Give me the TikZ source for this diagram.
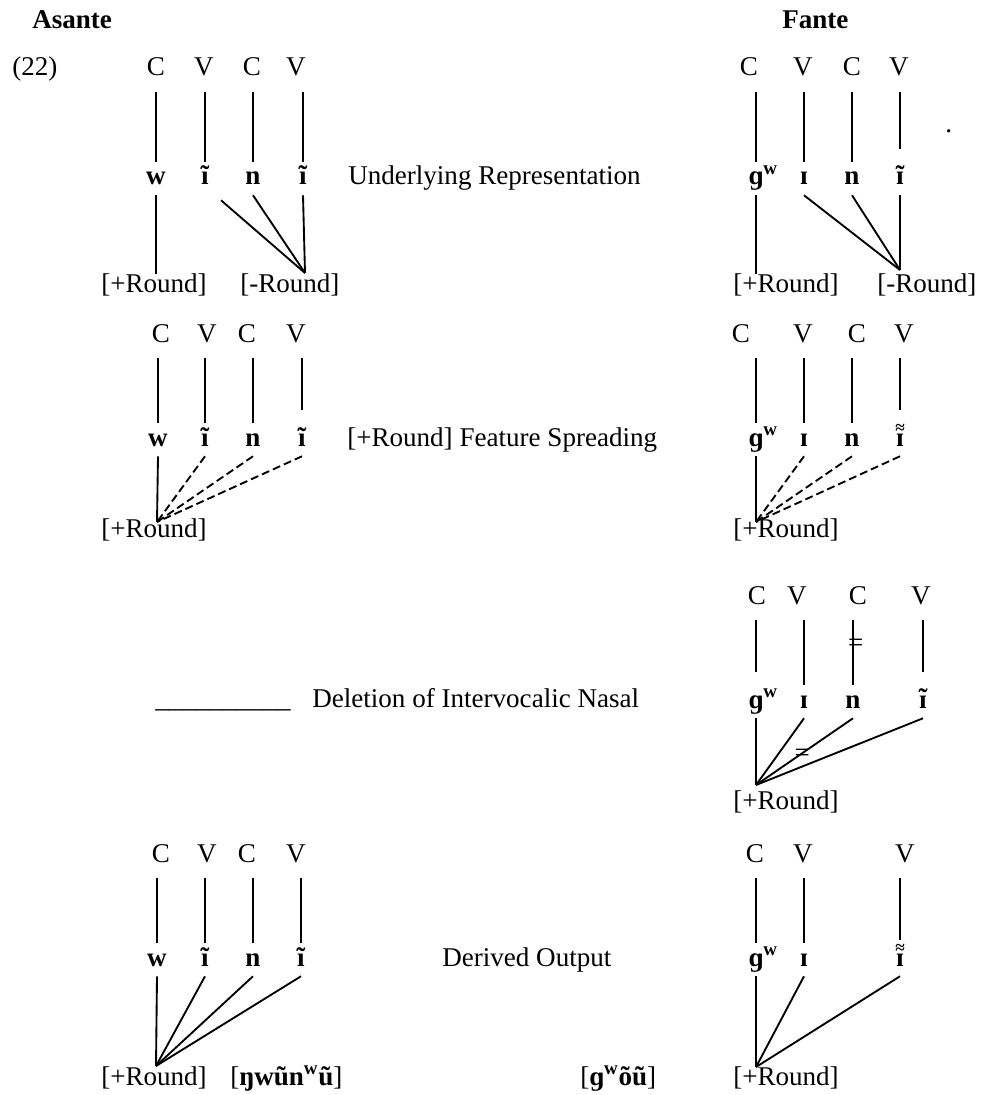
\documentclass[tikz,border=0pt]{standalone}
\usepackage{fontspec}
\setmainfont{Liberation Serif}
\usepackage{tikz}

\newcommand{\diagfont}{\fontsize{20.3}{24}\selectfont}
\newcommand{\labw}{\textsuperscript{\bfseries w}}
\newcommand{\nastilde}[1]{\ooalign{#1\cr\hidewidth\raisebox{0.02em}{˜}\hidewidth\cr}}
\newcommand{\dbltilde}[1]{\ooalign{#1\cr\hidewidth\raisebox{0.48em}{\fontsize{13}{13}\selectfont ≈}\hidewidth\cr}}

\tikzset{
    cv/.style={inner sep=0pt, anchor=base, text height=13.5pt, text depth=11.5pt},
    seg/.style={inner sep=0pt, anchor=base, text height=17pt, text depth=7.5pt, font=\diagfont\bfseries},
    tall/.style={text height=27pt},
    feat/.style={inner sep=0pt, anchor=base west, text height=13.5pt},
    plain/.style={inner sep=0pt, anchor=base west},
    head/.style={inner sep=0pt, anchor=base west, font=\diagfont\bfseries},
    delink/.style={inner sep=0pt, xshift=2pt},
    assoc/.style={line width=1.4pt},
    spread/.style={assoc, dash pattern=on 6pt off 3pt}
}

\begin{document}
\begin{tikzpicture}[x=0.75pt,y=0.75pt,yscale=-1,xscale=1,font=\diagfont]
        \useasboundingbox (0,0) rectangle (981,1095);

        % Headings
        \node [head] (asante) at (32,29) {Asante};
        \node [head] (fante) at (782,29) {Fante};
        \node [plain] (exno) at (12,76) {(22)};

        %%% Row 1: underlying representation
        % Asante
        \node [cv] (a1c1) at (156,76) {C};
        \node [cv] (a1v1) at (204,76) {V};
        \node [cv] (a1c2) at (252,76) {C};
        \node [cv] (a1v2) at (296,76) {V};
        \node [seg] (a1w) at (156,185) {w};
        \node [seg] (a1i) at (205,185) {ĩ};
        \node [seg] (a1n) at (253,185) {n};
        \node [seg] (a1j) at (303,185) {ĩ};
        \node [feat] (a1plus) at (101,292) {[+Round]};
        \node [feat] (a1minus) at (240,292) {[-Round]};
        \coordinate (a1hub) at (305,273);
        \node [plain] (a1note) at (348,185) {Underlying Representation};
        \draw [assoc] (a1c1.south -| a1w.north) -- (a1w.north);
        \draw [assoc] (a1v1.south -| a1i.north) -- (a1i.north);
        \draw [assoc] (a1c2.south -| a1n.north) -- (a1n.north);
        \draw [assoc] (a1v2.south -| a1j.north) -- (a1j.north);
        \draw [assoc] (a1w.south) -- (a1w.south |- a1plus.north);
        \draw [assoc] ([shift={(16,5)}]a1i.south) -- (a1hub);
        \draw [assoc] (a1n.south) -- (a1hub);
        \draw [assoc] (a1j.south) -- (a1hub);
        % Fante
        \node [cv] (f1c1) at (749,76) {C};
        \node [cv] (f1v1) at (803,76) {V};
        \node [cv] (f1c2) at (852,76) {C};
        \node [cv] (f1v2) at (899,76) {V};
        \node [seg] (f1g) at (756,185) {ɡ\rlap{\labw}};
        \node [seg] (f1i) at (804,185) {ɪ};
        \node [seg] (f1n) at (852,185) {n};
        \node [seg,tall] (f1j) at (900,185) {\nastilde{ɪ}};
        \node [feat] (f1plus) at (733,292) {[+Round]};
        \node [feat] (f1minus) at (877,292) {[-Round]};
        \coordinate (f1hub) at (900,270);
        \node [plain] (f1dot) at (945,133) {.};
        \draw [assoc] (f1c1.south -| f1g.north) -- (f1g.north);
        \draw [assoc] (f1v1.south -| f1i.north) -- (f1i.north);
        \draw [assoc] (f1c2.south -| f1n.north) -- (f1n.north);
        \draw [assoc] (f1v2.south -| f1j.north) -- (f1j.north);
        \draw [assoc] (f1g.south) -- (f1g.south |- f1plus.north);
        \draw [assoc] (f1i.south) -- (f1hub);
        \draw [assoc] (f1n.south) -- (f1hub);
        \draw [assoc] (f1j.south) -- (f1hub);

        %%% Row 2: [+Round] spreading
        % Asante
        \node [cv] (a2c1) at (161,342) {C};
        \node [cv] (a2v1) at (207,342) {V};
        \node [cv] (a2c2) at (247,342) {C};
        \node [cv] (a2v2) at (296,342) {V};
        \node [seg] (a2w) at (158,446) {w};
        \node [seg] (a2i) at (205,446) {ĩ};
        \node [seg] (a2n) at (253,446) {n};
        \node [seg,tall] (a2j) at (302,446) {ĩ};
        \node [feat] (a2plus) at (101,537) {[+Round]};
        \coordinate (a2hub) at (157,522);
        \node [plain] (a2note) at (347,446) {[+Round] Feature Spreading};
        \draw [assoc] (a2c1.south -| a2w.north) -- (a2w.north);
        \draw [assoc] (a2v1.south -| a2i.north) -- (a2i.north);
        \draw [assoc] (a2c2.south -| a2n.north) -- (a2n.north);
        \draw [assoc] (a2v2.south -| a2j.north) -- (a2j.north);
        \draw [assoc] (a2w.south) -- (a2hub);
        \draw [spread] (a2i.south) -- (a2hub);
        \draw [spread] (a2n.south) -- (a2hub);
        \draw [spread] (a2j.south) -- (a2hub);
        % Fante
        \node [cv] (f2c1) at (741,342) {C};
        \node [cv] (f2v1) at (803,342) {V};
        \node [cv] (f2c2) at (857,342) {C};
        \node [cv] (f2v2) at (904,342) {V};
        \node [seg] (f2g) at (756,446) {ɡ\rlap{\labw}};
        \node [seg] (f2i) at (804,446) {ɪ};
        \node [seg] (f2n) at (852,446) {n};
        \node [seg,tall] (f2j) at (900,446) {\dbltilde{ɪ}};
        \node [feat] (f2plus) at (733,537) {[+Round]};
        \coordinate (f2hub) at (756,522);
        \draw [assoc] (f2c1.south -| f2g.north) -- (f2g.north);
        \draw [assoc] (f2v1.south -| f2i.north) -- (f2i.north);
        \draw [assoc] (f2c2.south -| f2n.north) -- (f2n.north);
        \draw [assoc] (f2v2.south -| f2j.north) -- (f2j.north);
        \draw [assoc] (f2g.south) -- (f2hub);
        \draw [spread] (f2i.south) -- (f2hub);
        \draw [spread] (f2n.south) -- (f2hub);
        \draw [spread] (f2j.south) -- (f2hub);

        %%% Row 3: nasal deletion (Fante only)
        \node [plain] (a3blank) at (155,707) {\_\_\_\_\_\_\_\_\_\_};
        \node [plain] (a3note) at (312,707) {Deletion of Intervocalic Nasal};
        \node [cv] (f3c1) at (757,604) {C};
        \node [cv] (f3v1) at (797,604) {V};
        \node [cv] (f3c2) at (858,604) {C};
        \node [cv] (f3v2) at (921,604) {V};
        \node [seg,tall] (f3g) at (756,708) {ɡ\rlap{\labw}};
        \node [seg] (f3i) at (804,708) {ɪ};
        \node [seg] (f3n) at (853,708) {n};
        \node [seg,tall] (f3j) at (923,708) {\nastilde{ɪ}};
        \node [feat] (f3plus) at (733,809) {[+Round]};
        \coordinate (f3hub) at (756,785);
        \draw [assoc] (f3c1.south -| f3g.north) -- (f3g.north);
        \draw [assoc] (f3v1.south -| f3i.north) -- (f3i.north);
        \draw [assoc] (f3c2.south -| f3n.north) -- node [delink, pos=0.4] {=} (f3n.north);
        \draw [assoc] (f3v2.south -| f3j.north) -- (f3j.north);
        \draw [assoc] (f3g.south) -- (f3hub);
        \draw [assoc] (f3i.south) -- (f3hub);
        \draw [assoc] (f3n.south) -- node [delink, pos=0.55] {=} (f3hub);
        \draw [assoc] (f3j.south) -- (f3hub);

        %%% Row 4: derived output
        % Asante
        \node [cv] (a4c1) at (161,862) {C};
        \node [cv] (a4v1) at (207,862) {V};
        \node [cv] (a4c2) at (247,862) {C};
        \node [cv] (a4v2) at (296,862) {V};
        \node [seg] (a4w) at (157,966) {w};
        \node [seg] (a4i) at (205,966) {ĩ};
        \node [seg] (a4n) at (253,966) {n};
        \node [seg] (a4j) at (301,966) {ĩ};
        \node [feat] (a4plus) at (101,1085) {[+Round]};
        \node [plain] (a4form) at (230,1085) {[\textbf{ŋwũn\labw ũ}]};
        \coordinate (a4hub) at (156,1066);
        \node [plain] (a4note) at (442,966) {Derived Output};
        \node [plain] (f4form) at (580,1085) {[\textbf{ɡ\labw õũ}]};
        \draw [assoc] (a4c1.south -| a4w.north) -- (a4w.north);
        \draw [assoc] (a4v1.south -| a4i.north) -- (a4i.north);
        \draw [assoc] (a4c2.south -| a4n.north) -- (a4n.north);
        \draw [assoc] (a4v2.south -| a4j.north) -- (a4j.north);
        \draw [assoc] (a4w.south) -- (a4hub);
        \draw [assoc] (a4i.south) -- (a4hub);
        \draw [assoc] (a4n.south) -- (a4hub);
        \draw [assoc] (a4j.south) -- (a4hub);
        % Fante
        \node [cv] (f4c1) at (755,862) {C};
        \node [cv] (f4v1) at (803,862) {V};
        \node [cv] (f4v2) at (905,862) {V};
        \node [seg] (f4g) at (756,966) {ɡ\rlap{\labw}};
        \node [seg] (f4i) at (804,966) {ɪ};
        \node [seg,text height=19pt] (f4j) at (900,966) {\dbltilde{ɪ}};
        \node [feat] (f4plus) at (733,1085) {[+Round]};
        \coordinate (f4hub) at (756,1067);
        \draw [assoc] (f4c1.south -| f4g.north) -- (f4g.north);
        \draw [assoc] (f4v1.south -| f4i.north) -- (f4i.north);
        \draw [assoc] (f4v2.south -| f4j.north) -- (f4j.north);
        \draw [assoc] (f4g.south) -- (f4hub);
        \draw [assoc] (f4i.south) -- (f4hub);
        \draw [assoc] (f4j.south) -- (f4hub);

\end{tikzpicture}
\end{document}
